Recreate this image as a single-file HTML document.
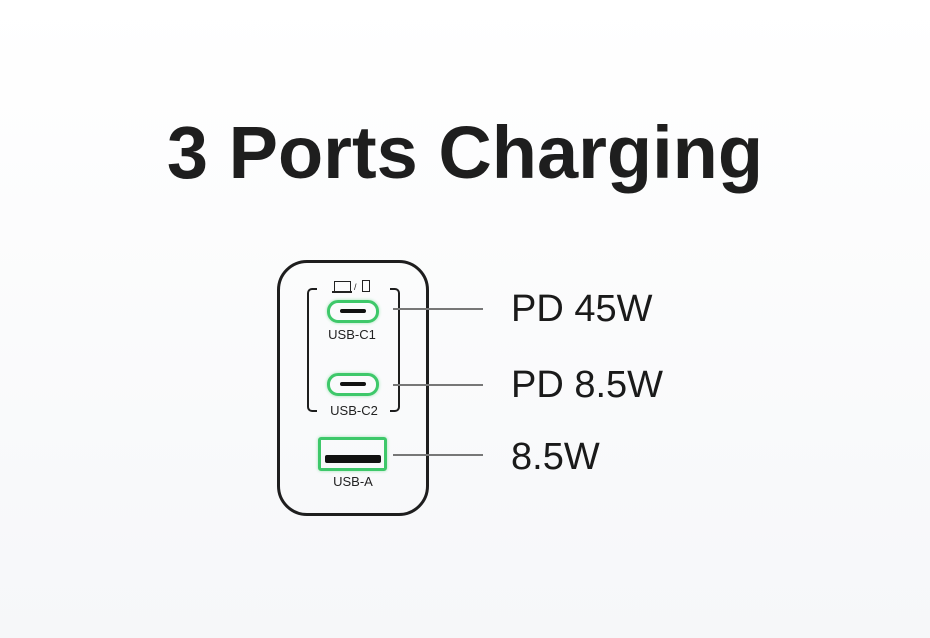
<!DOCTYPE html>
<html><head><meta charset="utf-8"><style>
html,body{margin:0;padding:0}
body{width:930px;height:638px;position:relative;overflow:hidden;background:linear-gradient(#ffffff,#f6f7f9);font-family:"Liberation Sans",sans-serif;color:#1c1c1c}
.a{position:absolute}
.t{left:0;width:930px;top:108px;text-align:center;font-weight:bold;font-size:74px;line-height:90px;color:#1e1e1e}
.body{left:277px;top:260px;width:146px;height:250px;border:3px solid #1e1e1e;border-radius:30px}
.br{top:288px;width:8px;height:120px;border:2px solid #1e1e1e}
.c{width:46px;height:17px;border:3px solid #3ec86a;border-radius:11px;box-shadow:0 0 3px #9fe3b4}
.c:after{content:"";position:absolute;left:10px;top:6px;width:26px;height:4px;background:#111;border-radius:2px}
.lbl{width:100px;text-align:center;font-size:13px;color:#222}
.ln{left:393px;width:90px;height:2px;background:#777}
.big{left:511px;font-size:38px;line-height:44px;color:#1a1a1a}
</style></head><body>
<div class="a t">3 Ports Charging</div>
<div class="a body"></div>
<div class="a br" style="left:307px;border-right:none;border-radius:5px 0 0 5px"></div>
<div class="a br" style="left:390px;border-left:none;border-radius:0 5px 5px 0"></div>
<div class="a" style="left:334px;top:281px;width:15px;height:10px;border:1.5px solid #222;border-bottom:none"></div>
<div class="a" style="left:332px;top:291px;width:20px;height:1.5px;background:#222"></div>
<div class="a" style="left:354px;top:282px;font-size:9px;line-height:10px">/</div>
<div class="a" style="left:362px;top:280px;width:6px;height:10px;border:1.5px solid #222"></div>
<div class="a c" style="left:327px;top:300px"></div>
<div class="a lbl" style="left:302px;top:327px">USB-C1</div>
<div class="a c" style="left:327px;top:373px"></div>
<div class="a lbl" style="left:304px;top:403px">USB-C2</div>
<div class="a" style="left:318px;top:437px;width:63px;height:28px;border:3px solid #3ec86a;border-radius:3px;box-shadow:0 0 3px #9fe3b4"></div>
<div class="a" style="left:325px;top:455px;width:56px;height:8px;background:#111;border-radius:2px"></div>
<div class="a lbl" style="left:303px;top:474px">USB-A</div>
<div class="a ln" style="top:308px"></div>
<div class="a ln" style="top:384px"></div>
<div class="a ln" style="top:454px"></div>
<div class="a big" style="top:287px">PD 45W</div>
<div class="a big" style="top:363px">PD 8.5W</div>
<div class="a big" style="top:435px">8.5W</div>
</body></html>
